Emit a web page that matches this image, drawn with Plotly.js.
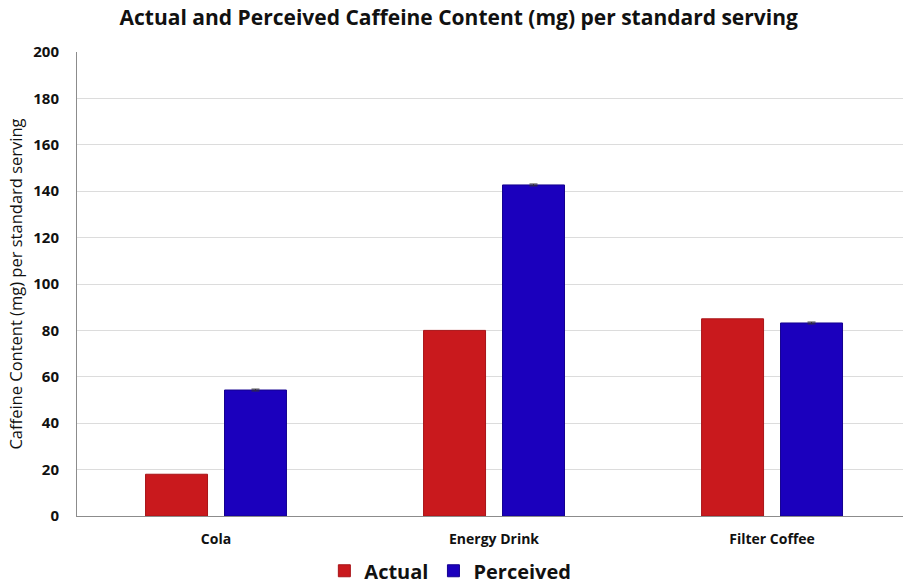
<!DOCTYPE html>
<html>
<head>
<meta charset="utf-8">
<script src="https://cdn.plot.ly/plotly-3.0.1.min.js"></script>
<style>html,body{margin:0;padding:0;background:#fff;}#chart{width:903px;height:587px;}</style>
</head>
<body>
<div id="chart"></div>
<script>
const categories = ["Cola", "Energy Drink", "Filter Coffee"];
const actualValues = [18, 80, 85];
const perceivedValues = [54.3, 142.7, 83.2];
const perceivedErrors = [0.4, 0.4, 0.4];
const yTickValues = [0, 20, 40, 60, 80, 100, 120, 140, 160, 180, 200];

const FONT = "Open Sans, Liberation Sans, sans-serif";

const traces = [
  {
    type: "bar", name: "Actual", x: categories, y: actualValues,
    marker: {color: "#C9191D", line: {color: "#A81418", width: 1}}
  },
  {
    type: "bar", name: "Perceived", x: categories, y: perceivedValues,
    marker: {color: "#1B00BD", line: {color: "#140090", width: 1}},
    error_y: {type: "data", array: perceivedErrors, visible: true, color: "#333333", thickness: 1, width: 4}
  }
];

const layout = {
  width: 903, height: 587,
  margin: {l: 77, r: 0, t: 52, b: 71, autoexpand: false},
  paper_bgcolor: "#ffffff", plot_bgcolor: "#ffffff",
  title: {
    text: "<b>Actual and Perceived Caffeine Content (mg) per standard serving</b>",
    font: {family: FONT, size: 21, color: "#111111"},
    x: 0.508, xref: "container", xanchor: "center", y: 0.97, yref: "container", yanchor: "middle",
    automargin: false
  },
  barmode: "group", bargap: 0.432, bargroupgap: 0.215,
  showlegend: true,
  legend: {
    orientation: "h", x: 0.452, xanchor: "center", xref: "paper",
    y: -0.118, yanchor: "middle", yref: "paper",
    font: {family: FONT, size: 20, color: "#111111", weight: "bold"},
    traceorder: "normal"
  },
  xaxis: {
    type: "category", range: [-0.5, 2.471], automargin: false,
    showgrid: false, showline: true, linecolor: "#8c8c8c", linewidth: 1,
    ticks: "", tickangle: 0, tickfont: {family: FONT, size: 14, color: "#111111", weight: "bold"},
    ticklabelstandoff: 10
  },
  yaxis: {
    range: [0, 200], tickvals: yTickValues, ticktext: yTickValues.map(String), automargin: false,
    showgrid: true, gridcolor: "#dcdcdc", gridwidth: 1,
    showline: true, linecolor: "#8c8c8c", linewidth: 1, zeroline: false,
    ticks: "", tickfont: {family: FONT, size: 15, color: "#111111", weight: "bold"},
    ticklabelstandoff: 14,
    title: {text: "Caffeine Content (mg) per standard serving", font: {family: FONT, size: 16.5, color: "#111111"}, standoff: 6}
  }
};

Plotly.newPlot("chart", traces, layout, {displayModeBar: false, staticPlot: true});
</script>
</body>
</html>
